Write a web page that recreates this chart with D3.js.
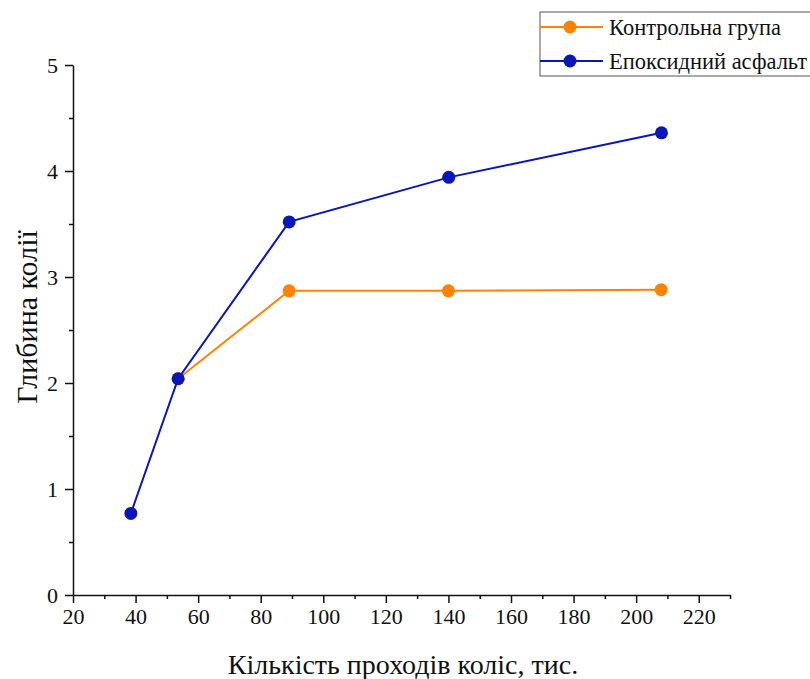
<!DOCTYPE html>
<html>
<head>
<meta charset="utf-8">
<script src="https://cdn.jsdelivr.net/npm/d3@7"></script>
<style>
body { margin: 0; background: #fff; }
</style>
</head>
<body>
<svg id="chart" width="810" height="679" font-family="Liberation Serif"></svg>
<script>
// data
var seriesNames = ["Контрольна група", "Епоксидний асфальт"];
var controlX = [53.6, 89.1, 140.0, 208.0];
var controlY = [2.04, 2.87, 2.87, 2.88];
var epoxyX = [38.5, 53.6, 89.1, 140.1, 208.1];
var epoxyY = [0.77, 2.04, 3.52, 3.94, 4.36];
var xTicks = [20, 40, 60, 80, 100, 120, 140, 160, 180, 200, 220];
var yTicks = [0, 1, 2, 3, 4, 5];
var colors = ["#ff8200", "#0a16b8"];
var FONT = "Liberation Serif";

var margin = { top: 65, right: 80, bottom: 84, left: 73 };
var width = 810 - margin.left - margin.right;   // 657
var height = 679 - margin.top - margin.bottom;  // 530

var svg = d3.select("#chart");
var g = svg.append("g").attr("transform", "translate(" + margin.left + "," + margin.top + ")");

var x = d3.scaleLinear().domain([20, 230]).range([0, width]);
var y = d3.scaleLinear().domain([0, 5]).range([height, 0]);

// minor ticks first
g.append("g")
	.attr("transform", "translate(0," + height + ")")
	.call(d3.axisBottom(x).tickValues(d3.range(30, 231, 20)).tickSize(4).tickFormat(""))
	.call(function(a){ a.select(".domain").remove(); });
g.append("g")
	.call(d3.axisLeft(y).tickValues(d3.range(0.5, 5, 1)).tickSize(4).tickFormat(""))
	.call(function(a){ a.select(".domain").remove(); });

var xAxis = g.append("g")
	.attr("transform", "translate(0," + height + ")")
	.call(d3.axisBottom(x).tickValues(xTicks).tickFormat(d3.format("d")).tickSize(8).tickSizeOuter(0).tickPadding(5));
var yAxis = g.append("g")
	.call(d3.axisLeft(y).tickValues(yTicks).tickFormat(d3.format("d")).tickSize(8).tickSizeOuter(0).tickPadding(7));

[xAxis, yAxis].forEach(function(a){
	a.attr("font-family", FONT).attr("font-size", 22);
	a.selectAll("text").attr("font-family", FONT).attr("fill", "#111");
	a.select(".domain").attr("stroke", "#111").attr("stroke-width", 1.5);
});
g.selectAll(".tick line").attr("stroke", "#111").attr("stroke-width", 1.5);

// axis titles
svg.append("text")
	.attr("x", 403).attr("y", 674)
	.attr("text-anchor", "middle")
	.attr("font-family", FONT)
	.attr("font-size", 28)
	.attr("fill", "#111")
	.text("Кількість проходів коліс, тис.");
svg.append("text")
	.attr("transform", "translate(37,317) rotate(-90)")
	.attr("text-anchor", "middle")
	.attr("font-family", FONT)
	.attr("font-size", 30)
	.attr("fill", "#111")
	.text("Глибина колії");

// series
var series = [
	{ xs: controlX, ys: controlY, color: colors[0] },
	{ xs: epoxyX, ys: epoxyY, color: colors[1] }
];
var line = d3.line().x(function(d){ return x(d[0]); }).y(function(d){ return y(d[1]); });

series.forEach(function(s){
	var pts = d3.zip(s.xs, s.ys);
	g.append("path").datum(pts)
		.attr("d", line)
		.attr("fill", "none")
		.attr("stroke", s.color)
		.attr("stroke-width", 2);
	g.selectAll(null).data(pts).enter().append("circle")
		.attr("cx", function(d){ return x(d[0]); })
		.attr("cy", function(d){ return y(d[1]); })
		.attr("r", 6.5)
		.attr("fill", s.color);
});

// legend
var legend = svg.append("g").attr("transform", "translate(540,12)");
legend.append("rect")
	.attr("width", 272).attr("height", 64)
	.attr("fill", "#fff").attr("stroke", "#555").attr("stroke-width", 1);
seriesNames.forEach(function(name, i){
	var ly = 15 + i * 34;
	legend.append("line")
		.attr("x1", 0).attr("x2", 63).attr("y1", ly).attr("y2", ly)
		.attr("stroke", colors[i]).attr("stroke-width", 2);
	legend.append("circle").attr("cx", 30).attr("cy", ly).attr("r", 6.5).attr("fill", colors[i]);
	legend.append("text")
		.attr("x", 69).attr("y", ly + 8)
		.attr("font-family", FONT)
		.attr("font-size", 22.5)
		.attr("fill", "#111")
		.text(name);
});
</script>
</body>
</html>
